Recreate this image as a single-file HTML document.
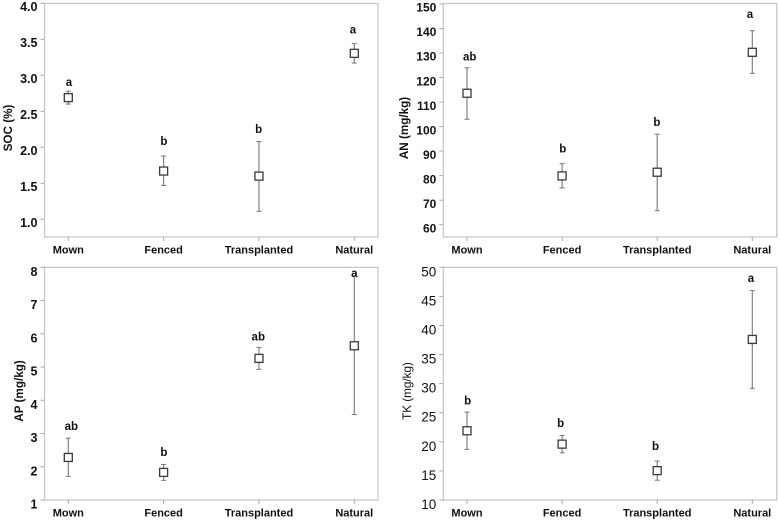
<!DOCTYPE html>
<html>
<head>
<meta charset="utf-8">
<title>Soil nutrients by treatment</title>
<style>
html,body{margin:0;padding:0;background:#fff;}
svg{display:block;}
text{font-family:"Liberation Sans",Arial,sans-serif;fill:#111;}
</style>
</head>
<body>
<svg id="chart" width="780" height="523" viewBox="0 0 780 523" xmlns="http://www.w3.org/2000/svg"></svg>
<script>
const categories = ['Mown', 'Fenced', 'Transplanted', 'Natural'];

const socTicks = ['1.0', '1.5', '2.0', '2.5', '3.0', '3.5', '4.0'];
const socMeans = [2.69, 1.67, 1.60, 3.305];
const socUpper = [2.78, 1.88, 2.08, 3.44];
const socLower = [2.60, 1.47, 1.11, 3.17];
const socLetters = ['a', 'b', 'b', 'a'];
const socLetterValues = [2.85, 2.03, 2.2, 3.58];

const anTicks = ['60', '70', '80', '90', '100', '110', '120', '130', '140', '150'];
const anMeans = [113.6, 79.9, 81.4, 130.3];
const anUpper = [124, 84.9, 96.9, 139.1];
const anLower = [103, 75, 65.7, 121.7];
const anLetters = ['ab', 'b', 'b', 'a'];
const anLetterValues = [127, 89.4, 100.2, 144.2];

const apTicks = ['1', '2', '3', '4', '5', '6', '7', '8'];
const apMeans = [2.28, 1.83, 5.26, 5.64];
const apUpper = [2.86, 2.07, 5.59, 7.74];
const apLower = [1.71, 1.59, 4.93, 3.57];
const apLetters = ['ab', 'b', 'ab', 'a'];
const apLetterValues = [3.1, 2.32, 5.8, 7.71];

const tkTicks = ['10', '15', '20', '25', '30', '35', '40', '45', '50'];
const tkMeans = [21.9, 19.6, 15.05, 37.6];
const tkUpper = [25.1, 21.1, 16.7, 46];
const tkLower = [18.7, 18.1, 13.4, 29.2];
const tkLetters = ['b', 'b', 'b', 'a'];
const tkLetterValues = [26.4, 22.55, 18.6, 47.5];

const svg = document.getElementById('chart');
const NS = 'http://www.w3.org/2000/svg';

function make(tag, attrs, parent, text) {
  const el = document.createElementNS(NS, tag);
  for (const k in attrs) el.setAttribute(k, attrs[k]);
  if (text !== undefined) el.textContent = text;
  parent.appendChild(el);
  return el;
}

function drawPanel(p) {
  const g = make('g', {}, svg);
  
  

  const tickNums = p.ticks.map(Number);
  const tMin = tickNums[0], tMax = tickNums[tickNums.length - 1];
  const yScale = v => p.yAtMin + (v - tMin) / (tMax - tMin) * (p.yAtMax - p.yAtMin);
  const xScale = i => p.x0 + i * p.xStep;

  const frame = make('rect', {x: p.left, y: p.top, width: p.right - p.left, height: p.bottom - p.top, fill: '#fff', stroke: '#c4c4c4', 'stroke-width': 1.2}, g);
  
  

  p.ticks.forEach((t, i) => {
    const y = yScale(tickNums[i]);
    const tick = make('line', {x1: p.left - 4, x2: p.left, y1: y, y2: y, stroke: '#aaa', 'stroke-width': 1}, g);
    
    
    const label = make('text', {x: p.left - 7, y: y + p.tickDy, 'text-anchor': 'end', 'font-size': p.tickSize, 'font-weight': p.tickWeight}, g, t);
    
    
  });

  categories.forEach((c, i) => {
    const x = xScale(i);
    const tick = make('line', {x1: x, x2: x, y1: p.bottom, y2: p.bottom + 4, stroke: '#aaa', 'stroke-width': 1}, g);
    
    
    const label = make('text', {x: x, y: p.bottom + 16.5, 'text-anchor': 'middle', 'font-size': 11, 'font-weight': 'bold'}, g, c);
    
    

    const yHi = yScale(p.upper[i]), yLo = yScale(p.lower[i]), yM = yScale(p.means[i]);
    const bar = make('line', {x1: x, x2: x, y1: yHi, y2: yLo, stroke: '#777', 'stroke-width': 1.1}, g);
    
    
    const capTop = make('line', {x1: x - 2.5, x2: x + 2.5, y1: yHi, y2: yHi, stroke: '#777', 'stroke-width': 1}, g);
    
    
    const capBottom = make('line', {x1: x - 2.5, x2: x + 2.5, y1: yLo, y2: yLo, stroke: '#777', 'stroke-width': 1}, g);
    
    
    const marker = make('rect', {x: x - 4, y: yM - 4, width: 8, height: 8, fill: '#fff', stroke: '#3a3a3a', 'stroke-width': 1.3}, g);
    
    
    const letter = make('text', {x: x + p.letterShift[i], y: yScale(p.letterValues[i]), 'text-anchor': 'middle', 'font-size': 11.5, 'font-weight': 'bold'}, g, p.letters[i]);
    
    
  });

  const title = make('text', {transform: 'translate(' + p.titleX + ',' + p.titleY + ') rotate(-90)', 'text-anchor': 'middle', 'font-size': 11.7, 'font-weight': p.titleWeight}, g, p.title);
  
  
}

drawPanel({name: 'soc', title: 'SOC (%)', ticks: socTicks, means: socMeans, upper: socUpper, lower: socLower, letters: socLetters, letterValues: socLetterValues,
  letterShift: [0.7, 0.3, -0.3, -1.3], left: 44.5, right: 378, top: 3.5, bottom: 237, yAtMin: 219.3, yAtMax: 3.3, x0: 68.3, xStep: 95.33, tickSize: 12.5, tickDy: 7.7, tickWeight: 'bold', titleX: 12, titleY: 128, titleWeight: 'bold'});
drawPanel({name: 'an', title: 'AN (mg/kg)', ticks: anTicks, means: anMeans, upper: anUpper, lower: anLower, letters: anLetters, letterValues: anLetterValues,
  letterShift: [2.7, 0.7, -0.3, -2.3], left: 443.3, right: 776.7, top: 3.5, bottom: 237, yAtMin: 224.7, yAtMax: 4, x0: 467, xStep: 95.1, tickSize: 12, tickDy: 7.7, tickWeight: 'bold', titleX: 408, titleY: 128, titleWeight: 'bold'});
drawPanel({name: 'ap', title: 'AP (mg/kg)', ticks: apTicks, means: apMeans, upper: apUpper, lower: apLower, letters: apLetters, letterValues: apLetterValues,
  letterShift: [3, 0.3, -0.7, 0], left: 44.5, right: 378, top: 267.3, bottom: 500, yAtMin: 500, yAtMax: 267.3, x0: 68.3, xStep: 95.33, tickSize: 12.5, tickDy: 8.7, tickWeight: 'bold', titleX: 23, titleY: 391, titleWeight: 'bold'});
drawPanel({name: 'tk', title: 'TK (mg/kg)', ticks: tkTicks, means: tkMeans, upper: tkUpper, lower: tkLower, letters: tkLetters, letterValues: tkLetterValues,
  letterShift: [0.7, -1.5, -1.7, -1.3], left: 443.3, right: 776.7, top: 267.3, bottom: 500, yAtMin: 500, yAtMax: 267.3, x0: 467, xStep: 95.1, tickSize: 13.5, tickDy: 9, tickWeight: 'normal', titleX: 411, titleY: 391, titleWeight: 'normal'});
</script>
</body>
</html>
